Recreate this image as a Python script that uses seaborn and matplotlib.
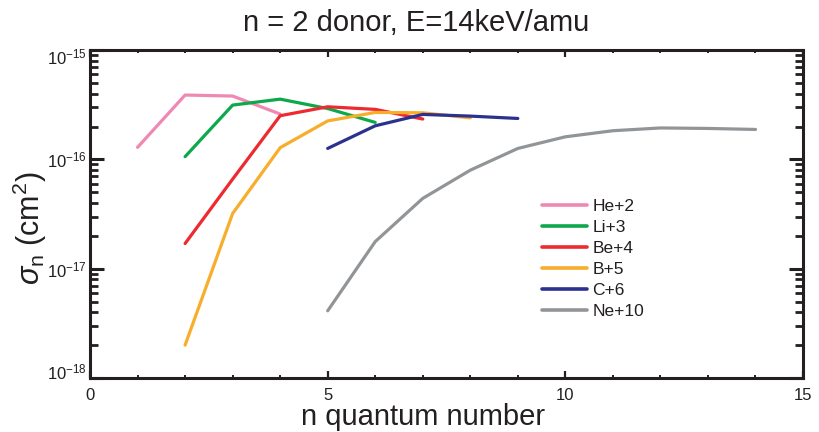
import numpy as np
import pandas as pd
import matplotlib
matplotlib.use("Agg")
import matplotlib.pyplot as plt
import matplotlib.ticker as mticker
import matplotlib.transforms as mtransforms
import seaborn as sns

# Capture cross sections into n levels, n = 2 donor, E = 14 keV/amu
ions = ["He+2", "Li+3", "Be+4", "B+5", "C+6", "Ne+10"]

n_he = [1, 2, 3, 4]
sigma_he = [1.29e-16, 3.88e-16, 3.80e-16, 2.60e-16]

n_li = [2, 3, 4, 5, 6]
sigma_li = [1.06e-16, 3.14e-16, 3.56e-16, 2.92e-16, 2.18e-16]

n_be = [2, 3, 4, 5, 6, 7]
sigma_be = [1.70e-17, 6.6e-17, 2.51e-16, 3.03e-16, 2.87e-16, 2.34e-16]

n_b = [2, 3, 4, 5, 6, 7, 8]
sigma_b = [2.0e-18, 3.2e-17, 1.28e-16, 2.25e-16, 2.69e-16, 2.67e-16, 2.40e-16]

n_c = [5, 6, 7, 8, 9]
sigma_c = [1.26e-16, 2.03e-16, 2.58e-16, 2.49e-16, 2.37e-16]

n_ne = [5, 6, 7, 8, 9, 10, 11, 12, 13, 14]
sigma_ne = [4.12e-18, 1.77e-17, 4.4e-17, 7.97e-17, 1.26e-16, 1.61e-16,
            1.83e-16, 1.94e-16, 1.92e-16, 1.88e-16]

colors = ["#EF89B3", "#0DA84C", "#EC2A2F", "#F8AD2B", "#2C3190", "#929598"]

series = [(n_he, sigma_he), (n_li, sigma_li), (n_be, sigma_be),
          (n_b, sigma_b), (n_c, sigma_c), (n_ne, sigma_ne)]
frames = []
for ion, (nv, sv) in zip(ions, series):
    frames.append(pd.DataFrame({"n": nv, "sigma": sv, "ion": ion}))
df = pd.concat(frames, ignore_index=True)

sns.set_style("ticks")
plt.rcParams["font.family"] = ["Liberation Sans", "DejaVu Sans"]
plt.rcParams["mathtext.fontset"] = "custom"
plt.rcParams["mathtext.rm"] = "Liberation Sans"
plt.rcParams["mathtext.it"] = "Liberation Sans:italic"
plt.rcParams["mathtext.default"] = "regular"

ink = "#231F20"
fig = plt.figure(figsize=(8.2, 4.32), dpi=100)
ax = fig.add_axes([0.1098, 0.125, 0.8695, 0.759])

sns.lineplot(data=df, x="n", y="sigma", hue="ion", hue_order=ions,
             palette=dict(zip(ions, colors)), linewidth=2.3, ax=ax,
             estimator=None, sort=False)

ax.set_yscale("log")
ax.set_xlim(0, 15)
ax.set_ylim(1e-18, 1e-15)

ax.xaxis.set_major_locator(mticker.FixedLocator([0, 5, 10, 15]))
ax.xaxis.set_minor_locator(mticker.MultipleLocator(1))
ax.yaxis.set_major_locator(mticker.FixedLocator([1e-18, 1e-17, 1e-16, 1e-15]))
ax.yaxis.set_minor_locator(mticker.LogLocator(base=10, subs=np.arange(2, 10), numticks=20))
ax.yaxis.set_minor_formatter(mticker.NullFormatter())
ax.yaxis.set_major_formatter(mticker.FuncFormatter(
    lambda v, p: r"$10^{%d}$" % int(round(np.log10(v)))))

ax.tick_params(axis="both", which="both", direction="in", top=True, right=True,
               color=ink, labelcolor=ink, labelsize=12)
ax.tick_params(axis="x", which="major", length=5, width=1.6, pad=7)
ax.tick_params(axis="x", which="minor", length=2.5, width=1.4)
ax.tick_params(axis="y", which="major", length=10, width=2.2, pad=2)
ax.tick_params(axis="y", which="minor", length=5.5, width=2)

# keep the end labels of the y axis inside the frame's height
for tick, dy in zip(ax.yaxis.get_major_ticks(), [7, 0, 0, -6]):
    if dy:
        shift = mtransforms.ScaledTranslation(0, dy / 100, fig.dpi_scale_trans)
        tick.label1.set_transform(tick.label1.get_transform() + shift)

for sp in ax.spines.values():
    sp.set_linewidth(2.2)
    sp.set_color(ink)

ax.set_xlabel("n quantum number", fontsize=21, color=ink)
ax.xaxis.set_label_coords(0.467, -0.12, transform=ax.transAxes)
ax.xaxis.label.set_verticalalignment("center")
ax.set_ylabel(r"$\it{\sigma}_{\rm n}$ (cm$^2$)", fontsize=22, color=ink)
ax.yaxis.set_label_coords(-0.058, 0.457, transform=ax.transAxes)
ax.set_title("n = 2 donor, E=14keV/amu", fontsize=21, color=ink, x=0.457, pad=14)

leg = ax.legend(loc="upper left", bbox_to_anchor=(0.624, 0.568), frameon=False,
                fontsize=12.5, handlelength=2.6, handletextpad=0.3,
                labelspacing=0.34, borderaxespad=0)
for line in leg.get_lines():
    line.set_linewidth(2.6)
for t in leg.get_texts():
    t.set_color(ink)

fig.savefig("out.png", dpi=100, facecolor="white")
